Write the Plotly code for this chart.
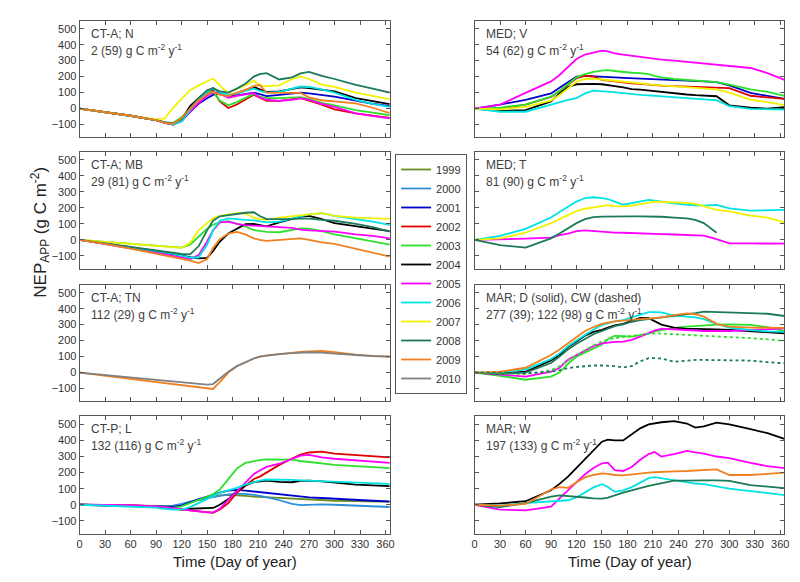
import plotly.graph_objects as go

# day-of-year sample points shared by every panel
days = [0, 30, 60, 90, 100, 110, 120, 130, 140, 150, 157, 165, 175, 185, 195,
        205, 212, 220, 235, 250, 260, 270, 285, 300, 325, 345, 365]

years = [1999, 2000, 2001, 2002, 2003, 2004, 2005, 2006, 2007, 2008, 2009, 2010]
year_colors = ['#6b8e23', '#2a8fd8', '#0000cc', '#e00000', '#2ee02e', '#000000',
               '#ff00ff', '#00e3e3', '#f2f200', '#1b7a5a', '#f08020', '#808080']

# CT-A; N
cta_n = {
    2001: [0, -22, -45, -72, -90, -100, -80, -20, 30, 65, 85, 95, 80, 82, 90, 100, 90, 78, 85, 95, 100, 95, 85, 75, 50, 30, 15],
    2002: [0, -22, -45, -72, -88, -95, -60, -5, 55, 100, 115, 45, 3, 25, 55, 86, 68, 48, 48, 58, 65, 50, 25, -5, -30, -45, -58],
    2003: [0, -22, -45, -72, -88, -90, -55, 0, 60, 100, 105, 50, 20, 40, 65, 92, 75, 65, 65, 70, 72, 60, 35, 20, -10, -25, -42],
    2004: [0, -22, -45, -72, -88, -98, -70, 15, 65, 105, 128, 95, 78, 95, 115, 135, 120, 105, 108, 125, 132, 128, 118, 108, 65, 45, 28],
    2005: [0, -22, -45, -72, -88, -98, -75, -20, 35, 80, 100, 95, 68, 80, 90, 97, 70, 55, 48, 55, 65, 55, 30, 10, -30, -48, -62],
    2006: [0, -22, -45, -72, -88, -100, -80, -10, 60, 105, 125, 100, 85, 95, 110, 125, 110, 100, 105, 125, 138, 135, 120, 100, 55, 30, 10],
    2007: [0, -22, -45, -68, -62, 5, 60, 115, 145, 170, 188, 145, 97, 124, 145, 175, 145, 140, 145, 185, 200, 185, 150, 135, 100, 80, 58],
    2008: [0, -22, -45, -72, -85, -92, -65, 0, 65, 115, 128, 108, 100, 125, 155, 200, 215, 222, 182, 195, 220, 230, 205, 185, 148, 125, 100],
    2009: [0, -22, -45, -72, -90, -95, -60, 0, 50, 90, 105, 85, 78, 100, 115, 140, 148, 100, 97, 98, 98, 70, 52, 45, 32, 5, -28],
}

# MED; V
med_v = {
    2001: [0, 25, 55, 95, 130, 165, 200, 205, 203, 202, 200, 195, 192, 190, 188, 185, 183, 181, 178, 175, 172, 170, 165, 145, 98, 80, 60],
    2002: [0, 0, 25, 72, 110, 150, 190, 205, 200, 180, 175, 168, 162, 158, 155, 150, 147, 143, 140, 137, 134, 132, 130, 128, 80, 70, 60],
    2003: [0, 5, 25, 75, 110, 150, 195, 215, 230, 238, 240, 235, 228, 224, 222, 215, 205, 195, 185, 180, 175, 170, 165, 150, 120, 105, 80],
    2004: [0, -15, -10, 45, 95, 135, 152, 155, 155, 152, 148, 140, 132, 122, 118, 112, 108, 102, 95, 88, 84, 80, 77, 20, 5, 0, 8],
    2005: [0, 25, 98, 170, 210, 260, 310, 338, 352, 362, 358, 345, 338, 330, 325, 318, 312, 306, 300, 292, 285, 280, 272, 266, 254, 222, 180],
    2006: [0, -20, -20, 25, 42, 55, 65, 95, 112, 110, 108, 103, 97, 90, 86, 82, 79, 75, 70, 66, 60, 57, 52, 15, -2, -4, -6],
    2007: [0, -5, 10, 50, 85, 125, 168, 185, 187, 182, 178, 172, 165, 160, 158, 152, 148, 145, 140, 135, 130, 126, 120, 100, 55, 40, 22],
}

# CT-A; MB
cta_mb = {
    2003: [0, -12, -25, -37, -40, -45, -48, -30, 20, 70, 95, 110, 118, 100, 85, 62, 55, 50, 48, 60, 72, 70, 55, 35, 10, -10, -30],
    2004: [0, -22, -45, -70, -80, -90, -100, -108, -115, -112, -70, -10, 40, 70, 98, 100, 95, 85, 110, 130, 146, 150, 130, 105, 85, 70, 55],
    2005: [0, -25, -50, -78, -88, -100, -110, -120, -95, -10, 60, 110, 115, 100, 92, 88, 85, 83, 80, 75, 65, 60, 58, 52, 35, 25, 10],
    2006: [0, -22, -45, -70, -78, -88, -100, -110, -110, -30, 60, 120, 135, 128, 125, 122, 115, 110, 115, 135, 146, 160, 167, 150, 130, 115, 94],
    2007: [0, -12, -25, -37, -40, -45, -50, -20, 60, 105, 135, 150, 160, 167, 165, 140, 130, 125, 140, 150, 155, 160, 167, 150, 140, 135, 132],
    2008: [0, -22, -45, -67, -75, -82, -88, -90, -40, 60, 120, 148, 155, 165, 170, 173, 150, 130, 128, 130, 135, 133, 125, 120, 100, 80, 52],
    2009: [0, -25, -55, -85, -95, -108, -118, -130, -145, -120, -50, 5, 40, 50, 35, 10, 0, -6, 0, 8, 10, 0, -15, -25, -55, -80, -104],
}

# MED; T
med_t = {
    2005: [0, 3, 8, 15, 30, 40, 55, 60, 55, 50, 48, 46, 45, 44, 42, 40, 38, 36, 34, 30, 28, 27, 5, -22, -22, -22, -23],
    2006: [0, 25, 69, 140, 175, 205, 240, 262, 267, 262, 256, 240, 220, 230, 240, 250, 245, 238, 228, 220, 216, 215, 219, 198, 183, 186, 188],
    2007: [0, 10, 45, 105, 130, 155, 180, 195, 205, 213, 218, 212, 210, 215, 225, 235, 240, 238, 235, 232, 225, 210, 188, 178, 152, 140, 110],
    2008: [0, -33, -48, 10, 40, 75, 105, 130, 142, 146, 147, 147, 147, 147, 147, 147, 146, 145, 140, 135, 125, 105, 45, None, None, None, None],
}

# CT-A; TN
cta_tn = {
    2009: [0, -20, -40, -60, -67, -73, -80, -87, -93, -99, -103, -60, 0, 40, 65, 88, 100, 108, 115, 125, 130, 133, 135, 128, 112, 105, 100],
    2010: [0, -15, -30, -45, -50, -55, -60, -65, -70, -75, -72, -38, 5, 40, 65, 88, 100, 106, 115, 122, 126, 127, 125, 118, 110, 103, 100],
}

# MAR; D (solid)
mar_d = {
    2003: [0, -20, -45, -25, 0, 55, 100, 125, 145, 175, 210, 230, 228, 225, 235, 245, 258, 265, 280, 287, 292, 294, 300, 302, 298, 285, 260],
    2004: [0, -5, 5, 75, 110, 160, 195, 230, 255, 267, 282, 295, 305, 325, 342, 340, 323, 300, 281, 273, 273, 273, 270, 267, 260, 252, 246],
    2005: [0, -12, -25, 5, 30, 80, 110, 140, 165, 183, 188, 192, 194, 205, 225, 248, 262, 275, 270, 265, 260, 260, 260, 260, 265, 270, 277],
    2006: [0, 0, 20, 85, 120, 165, 200, 235, 270, 298, 310, 320, 328, 345, 360, 378, 378, 377, 356, 350, 345, 335, 305, 282, 265, 258, 255],
    2008: [0, -8, 0, 60, 100, 145, 180, 210, 240, 260, 275, 290, 302, 318, 328, 335, 340, 345, 355, 362, 372, 381, 378, 377, 374, 368, 354],
    2009: [0, 5, 30, 110, 145, 185, 225, 260, 285, 304, 312, 320, 325, 332, 335, 338, 340, 345, 360, 371, 365, 350, 305, 288, 281, 281, 280],
}

# MAR; CW (dashed)
mar_cw = {
    2003: [0, -5, -10, 15, 40, 75, 110, 140, 170, 195, 205, 215, 222, 228, 232, 240, 246, 244, 240, 236, 233, 231, 228, 225, 215, 208, 198],
    2008: [0, 0, -5, 5, 15, 28, 35, 40, 44, 44, 44, 40, 32, 40, 70, 90, 90, 88, 68, 75, 79, 79, 79, 79, 75, 65, 58],
}

# CT-P; L
ctp_l = {
    1999: [0, -3, -6, -10, -10, -8, 0, 15, 30, 45, 50, 58, 62, 60, 55, 50, 48, 45, 40, 35, 32, 30, 28, 25, 22, 20, 18],
    2000: [0, -3, -7, -12, -10, -5, 5, 20, 32, 42, 48, 55, 65, 68, 68, 62, 55, 48, 28, 5, -2, 0, 2, 0, -5, -10, -14],
    2001: [0, -2, -5, -10, -12, -14, -5, 15, 35, 50, 62, 75, 88, 92, 88, 82, 78, 72, 65, 55, 50, 46, 42, 37, 30, 25, 21],
    2002: [0, 0, -3, -10, -15, -20, -28, -35, -42, -48, -50, -30, 10, 75, 120, 160, 175, 200, 248, 288, 312, 325, 330, 318, 308, 300, 295],
    2003: [0, -2, -5, -12, -18, -20, -10, 10, 28, 46, 65, 95, 160, 225, 260, 273, 278, 282, 281, 280, 272, 265, 255, 248, 240, 232, 228],
    2004: [0, -3, -8, -15, -20, -28, -30, -25, -22, -22, -20, 0, 35, 85, 120, 140, 145, 150, 142, 140, 148, 150, 145, 137, 125, 120, 116],
    2005: [0, 0, -3, -10, -15, -20, -28, -35, -42, -48, -48, -25, 30, 85, 135, 190, 213, 235, 255, 285, 305, 310, 295, 286, 275, 265, 260],
    2006: [0, -5, -10, -18, -25, -30, -30, -15, 10, 35, 55, 75, 90, 105, 125, 140, 150, 157, 158, 155, 152, 150, 145, 140, 135, 132, 130],
}

# MAR; W
mar_w = {
    2004: [0, 8, 22, 90, 130, 175, 230, 285, 340, 392, 405, 400, 400, 440, 475, 500, 508, 513, 520, 505, 480, 488, 510, 500, 470, 445, 410],
    2005: [0, -30, -35, -12, 40, 90, 140, 190, 228, 258, 262, 215, 210, 235, 280, 315, 328, 300, 315, 335, 325, 318, 300, 290, 260, 240, 228],
    2006: [0, -5, 10, 20, 22, 28, 45, 78, 108, 128, 110, 80, 90, 110, 140, 165, 172, 165, 152, 140, 132, 128, 115, 100, 85, 72, 60],
    2008: [0, -15, 10, 50, 58, 55, 48, 45, 40, 38, 45, 60, 75, 90, 105, 118, 125, 135, 150, 150, 152, 152, 152, 148, 122, 112, 104],
    2009: [0, -5, 5, 95, 110, 105, 140, 170, 185, 195, 192, 185, 183, 190, 195, 200, 202, 205, 208, 210, 213, 215, 220, 185, 185, 192, 200],
}

panel_names = ['CT-A; N', 'MED; V', 'CT-A; MB', 'MED; T', 'CT-A; TN',
               'MAR; D (solid), CW (dashed)', 'CT-P; L', 'MAR; W']
panel_sums = ['2 (59)', '54 (62)', '29 (81)', '81 (90)', '112 (29)',
              '277 (39); 122 (98)', '132 (116)', '197 (133)']

panels = [[cta_n], [med_v], [cta_mb], [med_t], [cta_tn], [mar_d, mar_cw], [ctp_l], [mar_w]]

W, H = 800, 582
col_px = [(69.3, 382.6), (468.3, 781.3)]
row_px = [(12.7, 129.3), (144.0, 260.7), (276.7, 393.3), (408.3, 525.7)]

FONT = 'Liberation Sans, Arial, sans-serif'
TXT = '#333333'
LINE = '#555555'

fig = go.Figure()
seen = set()
for i, group in enumerate(panels):
    for k, series in enumerate(group):
        for yr, vals in series.items():
            first = yr not in seen and k == 0
            if first:
                seen.add(yr)
            fig.add_trace(go.Scatter(
                x=days, y=vals, mode='lines',
                xaxis='x' if i == 0 else f'x{i + 1}',
                yaxis='y' if i == 0 else f'y{i + 1}',
                line=dict(color=year_colors[years.index(yr)], width=1.8,
                          dash='dot' if k == 1 else 'solid'),
                name=str(yr), legendgroup=str(yr), legendrank=yr,
                showlegend=first, connectgaps=False))

annotations = []
for i in range(8):
    r, c = divmod(i, 2)
    x0, x1 = col_px[c]
    y0, y1 = row_px[r]
    xa = 'xaxis' if i == 0 else f'xaxis{i + 1}'
    ya = 'yaxis' if i == 0 else f'yaxis{i + 1}'
    fig.update_layout(**{
        xa: dict(domain=[x0 / W, x1 / W], range=[0, 365], tickvals=list(range(0, 361, 30)),
                 ticks='inside', ticklen=4, tickcolor=LINE, mirror='ticks', showline=True,
                 linecolor=LINE, linewidth=1, showgrid=False, zeroline=False,
                 showticklabels=(r == 3), anchor='y' if i == 0 else f'y{i + 1}',
                 tickfont=dict(family=FONT, size=11, color=TXT)),
        ya: dict(domain=[1 - y1 / H, 1 - y0 / H], range=[-180, 550],
                 tickvals=list(range(-100, 501, 100)),
                 ticks='inside', ticklen=4, tickcolor=LINE, mirror='ticks', showline=True,
                 linecolor=LINE, linewidth=1, showgrid=False, zeroline=False,
                 showticklabels=(c == 0), anchor='x' if i == 0 else f'x{i + 1}',
                 tickfont=dict(family=FONT, size=11, color=TXT)),
    })
    annotations.append(dict(x=(x0 + 9) / W, y=1 - (y0 + 13) / H, xref='paper', yref='paper',
                            text=panel_names[i], showarrow=False, xanchor='left', yanchor='middle',
                            font=dict(family=FONT, size=12, color='#404040')))
    annotations.append(dict(x=(x0 + 9) / W, y=1 - (y0 + 29) / H, xref='paper', yref='paper',
                            text=panel_sums[i] + ' g C m<sup>-2</sup> y<sup>-1</sup>',
                            showarrow=False, xanchor='left', yanchor='middle',
                            font=dict(family=FONT, size=12, color='#404040')))

for c in range(2):
    x0, x1 = col_px[c]
    annotations.append(dict(x=(x0 + x1) / 2 / W, y=1 - 553 / H, xref='paper', yref='paper',
                            text='Time (Day of year)', showarrow=False,
                            xanchor='center', yanchor='middle',
                            font=dict(family=FONT, size=15, color='#222222')))

annotations.append(dict(x=30 / W, y=1 - 224 / H, xref='paper', yref='paper',
                        text='NEP<sub>APP</sub> (g C m<sup>-2</sup>)', textangle=-90,
                        showarrow=False, xanchor='center', yanchor='middle',
                        font=dict(family=FONT, size=17, color='#222222')))

fig.update_layout(
    width=W, height=H,
    margin=dict(l=0, r=0, t=0, b=0),
    paper_bgcolor='white', plot_bgcolor='white',
    annotations=annotations,
    showlegend=True,
    legend=dict(x=388 / W, y=1 - 146 / H, xanchor='left', yanchor='top',
                bgcolor='white', bordercolor=LINE, borderwidth=1,
                itemwidth=30, tracegroupgap=0,
                font=dict(family=FONT, size=11, color=TXT)),
)

fig.write_html("out.html")
